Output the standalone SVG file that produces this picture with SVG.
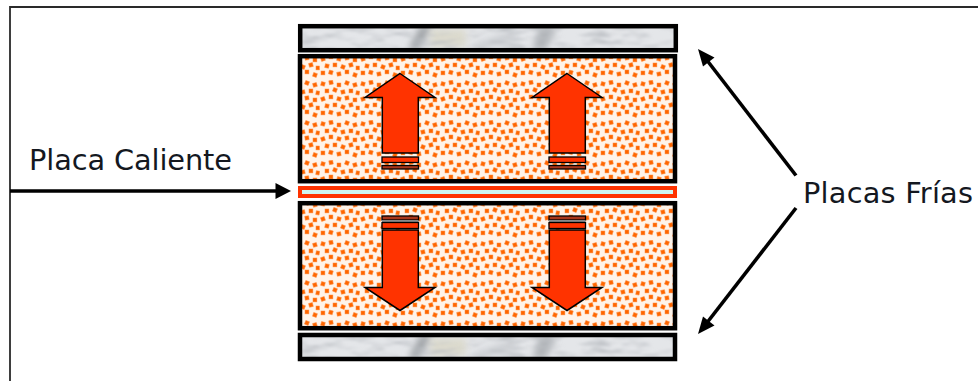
<svg xmlns="http://www.w3.org/2000/svg" width="978" height="381" viewBox="0 0 978 381">
<style>
.lbl{font-family:"DejaVu Sans",Verdana,sans-serif;font-size:28.800px;fill:#14181f}
.plate{stroke:#000;stroke-width:4.500;fill:none}
.core{stroke:#000;stroke-width:4.500;fill:url(#dots)}
.arr{fill:#ff3300;stroke:#000;stroke-width:1.500;stroke-linejoin:miter}
.bar{fill:#ff3300;stroke:#000;stroke-width:1.300}
.bard{fill:#a8361a;stroke:#000;stroke-width:1.300}
.con{stroke:#000;stroke-width:3.600;fill:none}
</style>
<defs>
<filter id="blur3" x="-50%" y="-50%" width="200%" height="200%"><feGaussianBlur stdDeviation="3.500"/></filter>
<filter id="veins" x="0" y="0" width="100%" height="100%">
<feTurbulence type="fractalNoise" baseFrequency="0.035 0.14" numOctaves="3" seed="7"/>
<feColorMatrix type="matrix" values="0 0 0 0 0.50  0 0 0 0 0.52  0 0 0 0 0.55  2.200 0 0 0 -1.000"/>
<feGaussianBlur stdDeviation="1"/>
</filter>
<pattern id="dots" width="40" height="40" patternUnits="userSpaceOnUse">
<rect width="40" height="40" fill="#fff4ea"/>
<g fill="#ff6600" stroke="#ff8a3c" stroke-width="0.500">
<rect x="1" y="2" width="3.900" height="3.900" transform="rotate(15 3 4)"/>
<rect x="9" y="0.500" width="3.900" height="3.900" transform="rotate(-10 11 2)"/>
<rect x="17" y="3" width="3.900" height="3.900"/>
<rect x="25" y="1" width="3.900" height="3.900" transform="rotate(20 27 3)"/>
<rect x="33" y="3" width="3.900" height="3.900" transform="rotate(-15 35 5)"/>
<rect x="5" y="9" width="3.900" height="3.900"/>
<rect x="13" y="8" width="3.900" height="3.900" transform="rotate(20 15 10)"/>
<rect x="21" y="10" width="3.900" height="3.900" transform="rotate(-12 23 12)"/>
<rect x="29" y="9" width="3.900" height="3.900"/>
<rect x="36" y="11" width="3.400" height="3.900" transform="rotate(10 38 13)"/>
<rect x="1" y="17" width="3.900" height="3.900" transform="rotate(-18 3 19)"/>
<rect x="9" y="15" width="3.900" height="3.900"/>
<rect x="17" y="17" width="3.900" height="3.900" transform="rotate(14 19 19)"/>
<rect x="25" y="16" width="3.900" height="3.900" transform="rotate(-8 27 18)"/>
<rect x="33" y="18" width="3.900" height="3.900"/>
<rect x="5" y="24" width="3.900" height="3.900" transform="rotate(12 7 26)"/>
<rect x="13" y="23" width="3.900" height="3.900"/>
<rect x="21" y="25" width="3.900" height="3.900" transform="rotate(20 23 27)"/>
<rect x="29" y="23" width="3.900" height="3.900" transform="rotate(-14 31 25)"/>
<rect x="36" y="26" width="3.400" height="3.900"/>
<rect x="1" y="31" width="3.900" height="3.900"/>
<rect x="9" y="30.500" width="3.900" height="3.900" transform="rotate(16 11 32)"/>
<rect x="17" y="32" width="3.900" height="3.900" transform="rotate(-10 19 34)"/>
<rect x="25" y="30" width="3.900" height="3.900"/>
<rect x="33" y="33" width="3.900" height="3.900" transform="rotate(18 35 35)"/>
</g>
</pattern>
<clipPath id="plateClip"><rect width="376" height="24"/></clipPath>
<g id="marbleFill" clip-path="url(#plateClip)">
<rect width="376" height="24" fill="#e4e6e9"/>
<path d="M108 24L120 0H134L118 24Z" fill="#a0a4a8" filter="url(#blur3)"/>
<rect x="130" y="3" width="36" height="18" fill="#dcdacd" filter="url(#blur3)"/>
<path d="M232 24L240 0H256L246 24Z" fill="#b0b4b8" filter="url(#blur3)"/>
<path d="M170 20L210 6L220 12L180 24Z" fill="#c8cbcf" filter="url(#blur3)"/>
<rect width="376" height="24" filter="url(#veins)"/>
</g>
</defs>
<rect width="978" height="381" fill="#fff"/>
<g id="frame"><path d="M10 381V7H978" fill="none" stroke="#2a2a2a" stroke-width="1.800"/></g>
<g id="placa-fria-superior"><use href="#marbleFill" x="300" y="26"/><rect class="plate" x="300.200" y="26.200" width="375.600" height="24"/></g>
<g id="bloque-superior"><rect class="core" x="300" y="56.200" width="375" height="125"/></g>
<g id="placa-caliente"><rect x="300" y="188" width="375" height="8" fill="#d0f5f0" stroke="#ff3300" stroke-width="4"/></g>
<g id="bloque-inferior"><rect class="core" x="300" y="203.200" width="375" height="125"/></g>
<g id="placa-fria-inferior"><use href="#marbleFill" x="300" y="335"/><rect class="plate" x="300" y="335" width="375" height="24"/></g>
<g id="flecha-sup-1">
<path class="arr" d="M400 73.500L435 97.500H418.300V153H382.300V97.500H365Z"/>
<rect class="bar" x="382" y="157" width="36.500" height="5.500"/><rect class="bard" x="382" y="165.500" width="36.500" height="3.500"/>
</g>
<g id="flecha-sup-2">
<path class="arr" d="M567 73.500L602 97.500H585.300V153H549.300V97.500H532Z"/>
<rect class="bar" x="549" y="157" width="36.500" height="5.500"/><rect class="bard" x="549" y="165.500" width="36.500" height="3.500"/>
</g>
<g id="flecha-inf-1">
<rect class="bard" x="382" y="216" width="36.500" height="4"/><rect x="382" y="220" width="36.500" height="2.500" fill="#8a8a8a"/><rect class="bar" x="382" y="222.500" width="36.500" height="6"/>
<path class="arr" d="M400 310.500L435 287.500H418.300V230H382.300V287.500H365Z"/>
</g>
<g id="flecha-inf-2">
<rect class="bard" x="549" y="216" width="36.500" height="4"/><rect x="549" y="220" width="36.500" height="2.500" fill="#8a8a8a"/><rect class="bar" x="549" y="222.500" width="36.500" height="6"/>
<path class="arr" d="M567 310.500L602 287.500H585.300V230H549.300V287.500H532Z"/>
</g>
<g id="connectors">
<path class="con" d="M10 191H277"/><path d="M291 191L275.500 183V199Z"/>
<path class="con" d="M796 175.500L706 59"/><path d="M698 49L714.500 57.500L703 66.500Z"/>
<path class="con" d="M796 208L706 324"/><path d="M698 334L703 316.500L714.500 325.500Z"/>
</g>
<g id="textos">
<text class="lbl" x="29" y="170" textLength="203">Placa Caliente</text>
<text class="lbl" x="803" y="203" textLength="170">Placas Frías</text>
</g>
</svg>
